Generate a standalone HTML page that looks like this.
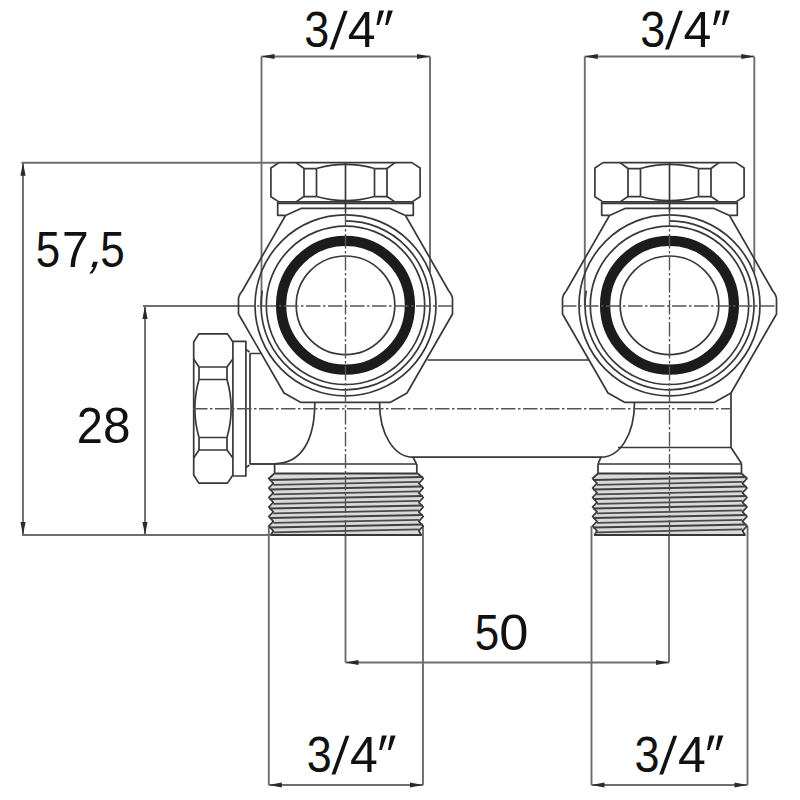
<!DOCTYPE html>
<html><head><meta charset="utf-8"><style>
html,body{margin:0;padding:0;background:#fff;width:800px;height:800px;overflow:hidden}
svg{display:block}
.t{font-family:"Liberation Sans",sans-serif;font-size:50px;fill:#111;text-anchor:middle}
.d{stroke:#6e6e6e;stroke-width:1.9;fill:none}
.b{stroke:#383838;stroke-width:1.7;fill:none;stroke-linejoin:round}
.c{stroke:#555;stroke-width:1.4;fill:none;stroke-dasharray:14.5 2.5 2.5 2.5}
.a{fill:#2a2a2a;stroke:none}
</style></head><body>
<svg width="800" height="800" viewBox="0 0 800 800">
<defs>
  <!-- hex nut, horizontal, centered at 0,0 ; length 150, height 39.5 -->
  <g id="nut" class="b">
    <path d="M-66.5,-19.6 H66.5 L74.6,-14.2 V14.5 L66.5,19.6 H-66.5 L-74.6,14.5 V-14.2 Z"/>
    <path d="M-41.5,-13.7 V14.3 M-29,-13.7 V14.3 M29,-13.7 V14.3 M41.5,-13.7 V14.3"/>
    <path d="M-41.5,-13.7 H-29 M-41.5,14.3 H-29 M29,-13.7 H41.5 M29,14.3 H41.5"/>
    <path d="M-41.5,-13.7 L-49.5,-19.6 M-41.5,14.3 L-49.5,19.6 M41.5,-13.7 L49.5,-19.6 M41.5,14.3 L49.5,19.6"/>
    <path d="M-29,-13.7 Q0,-22 29,-13.7 M-29,14.3 Q0,22.6 29,14.3"/>
  </g>
  <!-- valve upper body (nut, washer, hex, circles) in local x, absolute y -->
  <g id="body">
    <use href="#nut" transform="translate(0,182.25)"/>
    <path class="b" d="M-60,215.3 H-67.8 V202 M60,215.3 H67.8 V202 M-67.8,203.4 H67.8"/>
    <path class="b" d="M0,163 V212" stroke="#444"/>
    <path class="b" d="M-60,215.5 L-44.5,208.4 H44.5 L60,215.5"/>
    <path class="b" d="M-60,215.5 L-103,290.5 Q-107,295.5 -107,299 V314 L-61.5,393 L-45,402.3 H45 L61.5,393 L107,314 V299 Q107,295.5 103,290.5 L60,215.5"/>
    <circle class="b" cx="0" cy="305.3" r="49.3"/>
    <circle cx="0" cy="305.3" r="64.4" fill="none" stroke="#1c1c1c" stroke-width="10.3"/>
    <circle class="b" cx="0" cy="305.3" r="79.2"/>
    <path class="b" d="M0,220.8 A84.5,84.5 0 1,1 -83.2,290.6"/>
    <circle class="b" cx="0" cy="305.3" r="90.5"/>
  </g>
  <!-- threads section local x, absolute y -->
  <g id="thr" class="b">
    <path d="M-71.5,473.5 L-77,478.5 L-72.5,483.3 L-77,488 L-72.5,492.8 L-77,497.5 L-72.5,502.3 L-77,507 L-72.5,511.8 L-77,516.5 L-72.5,521.3 L-77,526 L-72.5,530.8 L-75,535 H75.5 L73,530.8 L77.5,526 L73,521.3 L77.5,516.5 L73,511.8 L77.5,507 L73,502.3 L77.5,497.5 L73,492.8 L77.5,488 L73,483.3 L77.5,478.5 L72,473.5 Z" fill="#dadada" stroke="none"/>
    <path d="M-71.5,473.5 H72" stroke-width="2.2"/>
    <path d="M-75,535 H75.5" stroke-width="2"/>
    <path d="M-71.5,473.5 L-77,478.5 L-72.5,483.3 L-77,488 L-72.5,492.8 L-77,497.5 L-72.5,502.3 L-77,507 L-72.5,511.8 L-77,516.5 L-72.5,521.3 L-77,526 L-72.5,530.8 L-75,535 H75.5 L73,530.8 L77.5,526 L73,521.3 L77.5,516.5 L73,511.8 L77.5,507 L73,502.3 L77.5,497.5 L73,492.8 L77.5,488 L73,483.3 L77.5,478.5 L72,473.5"/>
    <path stroke-width="2" stroke="#404040" d="M-76.5,480.0 L77,477.0 M-76.5,489.5 L77,486.5 M-76.5,499.0 L77,496.0 M-76.5,508.5 L77,505.5 M-76.5,518.0 L77,515.0 M-76.5,527.5 L77,524.5"/>
    <path stroke-width="1.8" stroke="#4a4a4a" d="M-72.5,484.8 L73,481.8 M-72.5,494.3 L73,491.3 M-72.5,503.8 L73,500.8 M-72.5,513.3 L73,510.3 M-72.5,522.8 L73,519.8 M-72.5,532.3 L73,529.3"/>
  </g>
</defs>

<!-- ===== dimension lines ===== -->
<g class="d">
  <!-- top 3/4 left -->
  <path d="M261.5,56.5 H430 M261.5,56.5 V306 M430,56.5 V272"/>
  <!-- top 3/4 right -->
  <path d="M584.8,56.5 H754.3 M584.8,56.5 V306 M754.3,56.5 V273"/>
  <!-- 57,5 -->
  <path d="M21.5,162.7 H279 M23,162.7 V535 M22,535 H270"/>
  <!-- 28 -->
  <path d="M143,306 H240 M145,306 V535"/>
  <!-- 50 -->
  <path d="M345.5,535 V662.5 M669,535 V662.5 M345.5,662.5 H669"/>
  <!-- bottom 3/4 left -->
  <path d="M268.8,526 V785 M423,526 V785 M268.8,785 H423"/>
  <!-- bottom 3/4 right -->
  <path d="M591.5,526 V785 M747.5,526 V785 M591.5,785 H747.5"/>
</g>
<!-- arrowheads -->
<g class="a">
  <path d="M261.5,56.5 l13,-2.6 v5.2 z M430,56.5 l-13,-2.6 v5.2 z"/>
  <path d="M584.8,56.5 l13,-2.6 v5.2 z M754.3,56.5 l-13,-2.6 v5.2 z"/>
  <path d="M23,162.7 l-2.6,13 h5.2 z M23,535 l-2.6,-13 h5.2 z"/>
  <path d="M145,306 l-2.6,13 h5.2 z M145,535 l-2.6,-13 h5.2 z"/>
  <path d="M345.5,662.5 l13,-2.6 v5.2 z M669,662.5 l-13,-2.6 v5.2 z"/>
  <path d="M268.8,785 l13,-2.6 v5.2 z M423,785 l-13,-2.6 v5.2 z"/>
  <path d="M591.5,785 l13,-2.6 v5.2 z M747.5,785 l-13,-2.6 v5.2 z"/>
</g>

<!-- ===== valves ===== -->
<use href="#body" transform="translate(345.5,0)"/>
<use href="#body" transform="translate(669.5,0)"/>

<!-- side nut of left valve -->
<use href="#nut" transform="translate(213.3,408.5) rotate(90)"/>
<!-- side washer + pipe stub -->
<path class="b" d="M233,341.3 H245.9 V349.4 L249.5,352 M233,476 H245.9 V467.6 L249.5,465 M245.9,349.4 V467.6"/>
<path class="b" d="M250,353.5 V464 M249.5,353.5 H262 M250,464 H275"/>

<!-- main connecting pipe -->
<path class="b" d="M427.5,360 H588.8 M413,457.2 H601"/>

<!-- left valve neck -->
<path class="b" d="M314.8,402.3 C314.8,441 301,463.8 274.6,463.8"/>
<path class="b" d="M379.5,402.3 C379.5,436 395,457.2 413,457.2 L416.5,464"/>
<!-- right valve neck -->
<path class="b" d="M634.5,402.3 C634.5,436 619,457.2 601,457.2 L598,464"/>
<path class="b" d="M731,392.5 V447.5 L741.5,463.5 M618,447.5 H731"/>

<!-- collars + threads -->
<g class="b">
  <path d="M274.6,463.8 V473.5 M416.8,464 V473.5 M250,464 H416.8"/>
  <path d="M598,464 V473.5 M741.5,463.5 V473.5 M598,464 H741.5"/>
</g>
<use href="#thr" transform="translate(345.8,0)"/>
<use href="#thr" transform="translate(669.5,0)"/>

<!-- centerlines -->
<g class="c">
  <path d="M193,408.7 H731"/>
  <path d="M240,306 H453 M562,306 H777"/>
  <path d="M345.5,212 V535 M669.5,212 V535"/>
</g>

<!-- ===== text ===== -->
<g>
<text class="t" transform="translate(316.74,46.70) scale(0.9,1)">3</text>
<text class="t" transform="translate(336.76,48.60) skewX(-6) scale(1,1.06)">/</text>
<text class="t" transform="translate(361.75,46.70)">4</text>
<text class="t" transform="translate(381.84,49.50) skewX(-4) scale(1.05,1.15)">″</text>
<text class="t" transform="translate(652.68,46.70) scale(0.9,1)">3</text>
<text class="t" transform="translate(672.01,48.60) skewX(-6) scale(1,1.06)">/</text>
<text class="t" transform="translate(697.50,46.70)">4</text>
<text class="t" transform="translate(718.59,49.50) skewX(-4) scale(1.05,1.15)">″</text>
<text class="t" transform="translate(319.19,771.70) scale(0.9,1)">3</text>
<text class="t" transform="translate(338.41,773.60) skewX(-6) scale(1,1.06)">/</text>
<text class="t" transform="translate(363.85,771.70)">4</text>
<text class="t" transform="translate(384.44,774.50) skewX(-4) scale(1.05,1.15)">″</text>
<text class="t" transform="translate(646.93,771.70) scale(0.9,1)">3</text>
<text class="t" transform="translate(666.21,773.60) skewX(-6) scale(1,1.06)">/</text>
<text class="t" transform="translate(691.85,771.70)">4</text>
<text class="t" transform="translate(712.19,774.50) skewX(-4) scale(1.05,1.15)">″</text>
<text class="t" transform="translate(48.09,266.50) scale(0.88,1)">5</text>
<text class="t" transform="translate(75.23,266.50) scale(0.96,1)">7</text>
<text class="t" transform="translate(93.76,266.50) skewX(-18)">,</text>
<text class="t" transform="translate(112.44,266.50) scale(0.88,1)">5</text>
<text class="t" transform="translate(89.70,443.30) scale(0.94,1)">2</text>
<text class="t" transform="translate(116.80,443.30) scale(0.99,1)">8</text>
<text class="t" transform="translate(486.89,649.50) scale(0.88,1)">5</text>
<text class="t" transform="translate(513.95,649.50) scale(1.05,1)">0</text>
</g>
</svg>
</body></html>
